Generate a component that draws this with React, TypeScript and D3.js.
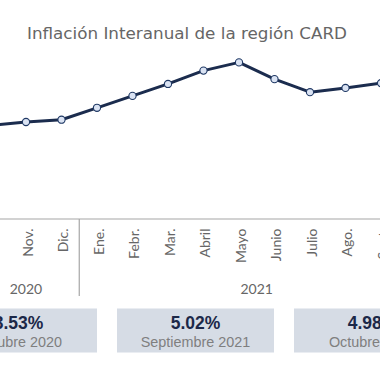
import React from "react";
import * as d3 from "d3";

const months = ["Oct.", "Nov.", "Dic.", "Ene.", "Febr.", "Mar.", "Abril", "Mayo", "Junio", "Julio", "Ago.", "Sept.", "Oct."];
const years = ["2020", "2020", "2020", "2021", "2021", "2021", "2021", "2021", "2021", "2021", "2021", "2021", "2021"];
const inflation = [3.53, 3.65, 3.73, 4.15, 4.57, 4.99, 5.46, 5.75, 5.16, 4.7, 4.85, 5.02, 4.98];
const cardValues = ["3.53%", "5.02%", "4.98%"];
const cardLabels = ["Octubre 2020", "Septiembre 2021", "Octubre 2021"];
const title = "Inflación Interanual de la región CARD";

const W = 380;
const H = 380;
const step = 35.5;
const x0 = -9.5;
const axisY = 219;
const FONT = "Lato, 'Open Sans', sans-serif";

export default function App() {
  const keys = months.map((_, i) => String(i));
  const x = d3
    .scalePoint<string>()
    .domain(keys)
    .range([x0, x0 + step * (months.length - 1)]);
  const y = d3.scaleLinear().domain([3.53, 5.02]).range([125.4, 83.1]);

  const line = d3
    .line<number>()
    .x((_, i) => x(String(i)) as number)
    .y((d) => y(d));

  const groups: { year: string; start: number; end: number }[] = [];
  years.forEach((yr, i) => {
    const cx = x(String(i)) as number;
    const last = groups[groups.length - 1];
    if (!last || last.year !== yr) groups.push({ year: yr, start: cx - step / 2, end: cx + step / 2 });
    else last.end = cx + step / 2;
  });

  const cardW = 157;
  const cardGap = 20;
  const cardStart = -60;

  return (
    <svg width={W} height={H} style={{ position: "absolute", left: 0, top: 0, background: "#fff" }}>
      <text
        x={187}
        y={38.5}
        textAnchor="middle"
        fontFamily="'DejaVu Sans', sans-serif"
        fontSize={15}
        textLength={320}
        lengthAdjust="spacingAndGlyphs"
        fill="#666666"
      >
        {title}
      </text>
      <line x1={0} x2={W} y1={axisY} y2={axisY} stroke="#a6a6a6" strokeWidth={1.2} />
      {groups.slice(1).map((g) => (
        <line key={"sep" + g.year} x1={g.start} x2={g.start} y1={axisY} y2={296} stroke="#a6a6a6" strokeWidth={1.2} />
      ))}
      {months.map((m, i) => {
        const cx = (x(String(i)) as number) + 6.5;
        return (
          <text
            key={"m" + i}
            transform={`translate(${cx},${228.5}) rotate(-90)`}
            textAnchor="end"
            fontFamily={FONT}
            fontSize={14}
            fill="#666666"
          >
            {m}
          </text>
        );
      })}
      {groups.map((g) => (
        <text
          key={"y" + g.year}
          x={(g.start + g.end) / 2}
          y={293.5}
          textAnchor="middle"
          fontFamily={FONT}
          fontSize={14}
          fill="#666666"
        >
          {g.year}
        </text>
      ))}
      <path d={line(inflation) || ""} fill="none" stroke="#1b2c4e" strokeWidth={3} strokeLinejoin="round" />
      {inflation.map((v, i) => (
        <circle key={"c" + i} cx={x(String(i)) as number} cy={y(v)} r={3.6} fill="#dae3f3" stroke="#1f3864" strokeWidth={1.1} />
      ))}
      {cardValues.map((v, i) => {
        const left = cardStart + i * (cardW + cardGap);
        const cx = left + cardW / 2;
        return (
          <g key={"card" + i}>
            <rect x={left} y={308.5} width={cardW} height={44} fill="#d6dce5" />
            <text x={cx} y={329.3} textAnchor="middle" fontFamily="'Liberation Sans', Arial, sans-serif" fontWeight="bold" fontSize={17.5} fill="#1c2848">
              {v}
            </text>
            <text x={cx} y={347.3} textAnchor="middle" fontFamily="'Liberation Sans', Arial, sans-serif" fontSize={14.4} fill="#7f7f7f">
              {cardLabels[i]}
            </text>
          </g>
        );
      })}
    </svg>
  );
}
